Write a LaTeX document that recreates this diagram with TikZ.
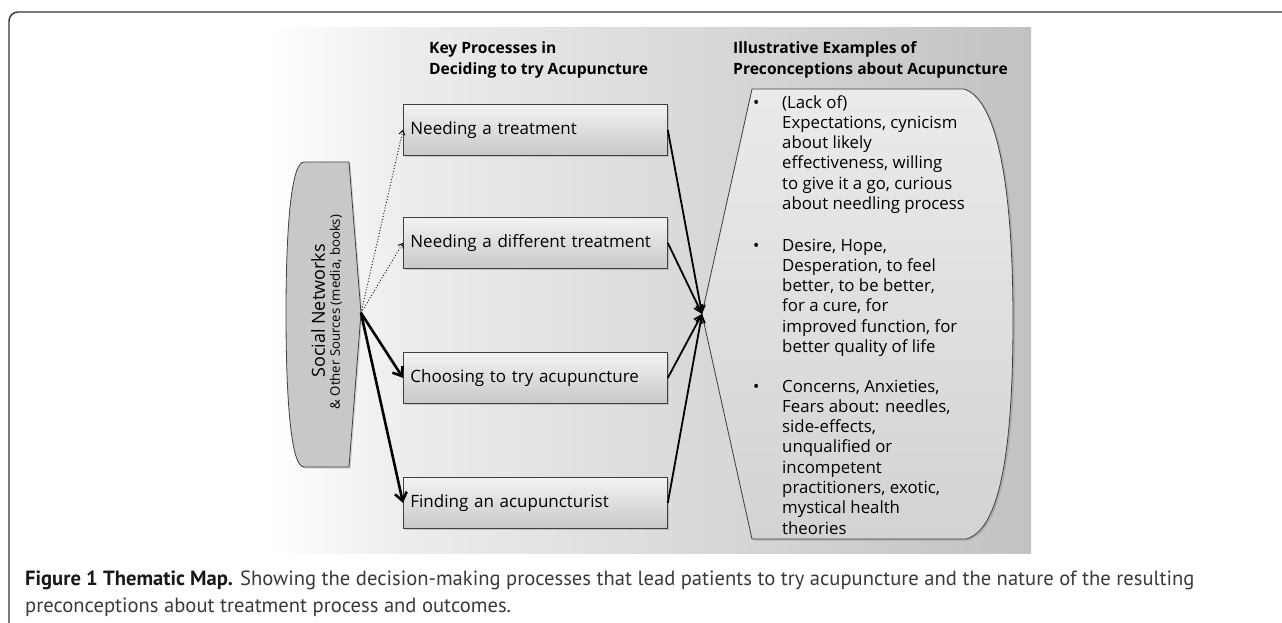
\documentclass[tikz,border=0pt]{standalone}
\usepackage{fontspec}
\setmainfont{Open Sans}
\newfontfamily\capfont{PT Sans}
\usetikzlibrary{arrows.meta,shadows}
\definecolor{frameC}{HTML}{333333}
\definecolor{panelL}{HTML}{EDEDED}
\definecolor{panelR}{HTML}{C2C2C4}
\definecolor{boxTop}{HTML}{F3F3F3}
\definecolor{boxBot}{HTML}{C8C8C8}
\definecolor{edgeC}{HTML}{404040}
\definecolor{socC}{HTML}{C8C8C8}
\definecolor{capC}{HTML}{3A3A3A}
\tikzset{
  pbox/.style={draw=edgeC, line width=0.8pt, top color=boxTop, bottom color=boxBot,
    minimum width=264pt, minimum height=51pt, text width=250pt, inner xsep=7pt, inner ysep=0pt,
    align=left, anchor=north west, font=\fontsize{17}{20}\selectfont,
    drop shadow={shadow xshift=1.5pt, shadow yshift=-1.5pt, opacity=0.35}},
  headtxt/.style={anchor=base west, inner sep=0pt, font=\bfseries\fontsize{15.6}{18}\selectfont},
  bodytxt/.style={anchor=base west, inner sep=0pt, font=\fontsize{16.8}{18}\selectfont},
  dotarr/.style={dotted, line width=0.9pt, -{Straight Barb[length=4pt,width=6pt]}},
  boldarr/.style={line width=2.6pt, -{Straight Barb[length=8pt,width=12pt]}},
  convarr/.style={line width=1.8pt, -{Straight Barb[length=7pt,width=9pt]}},
  captxt/.style={anchor=base west, inner sep=0pt, text=capC, font=\capfont\fontsize{20.6}{24}\selectfont}
}
\begin{document}
\begin{tikzpicture}[x=1pt,y=-1pt]
\useasboundingbox (0,0) rectangle (1282,622);
\clip (0,0) rectangle (1282,622);
\fill[white] (0,0) rectangle (1282,622);
% outer frame
\draw[frameC, line width=1.4pt, rounded corners=9pt] (9,12) rectangle (1320,660);
% panel
\shade[left color=white, right color=panelL] (270,27) rectangle (402,553);
\shade[left color=panelL, right color=panelR] (401,27) rectangle (1031,553);
% headings
\node[headtxt] (h1a) at (429,53) {Key Processes in};
\node[headtxt] (h1b) at (429,74) {Deciding to try Acupuncture};
\node[headtxt] (h2a) at (733,53) {Illustrative Examples of};
\node[headtxt] (h2b) at (733,74) {Preconceptions about Acupuncture};
% social networks shape
\path[draw=edgeC, line width=0.8pt, fill=socC, drop shadow={shadow xshift=1.5pt, shadow yshift=-1.5pt, opacity=0.3}]
  (349,162) -- (304,162) .. controls (290,162) and (286,240) .. (286,313)
  .. controls (286,390) and (290,467) .. (304,467) -- (349,467) -- (361,313) -- cycle;
\coordinate (soc) at (361,313);
\node[rotate=90, inner sep=0pt, font=\fontsize{18}{20}\selectfont] (sn) at (318,311) {Social Networks};
\node[rotate=90, inner sep=0pt, font=\fontsize{13.2}{15}\selectfont] (os) at (336,312) {\& Other Sources (media, books)};
% process boxes
\node[pbox] (b1) at (403,104) {Needing a treatment};
\node[pbox] (b2) at (403,217) {Needing a different treatment};
\node[pbox] (b3) at (403,352) {Choosing to try acupuncture};
\node[pbox] (b4) at (403,477) {Finding an acupuncturist};
% right shape
\coordinate (conv) at (702,314);
\path[draw=edgeC, line width=0.8pt, top color=boxTop!80!boxBot, bottom color=boxBot!80!white,
  drop shadow={shadow xshift=2pt, shadow yshift=-1.5pt, opacity=0.35}]
  (752,89) -- (964,89) .. controls (1000,100) and (1013,200) .. (1013,320)
  .. controls (1013,450) and (1000,530) .. (966,539) -- (752,539) -- (conv) -- cycle;
% bullets
\node[bodytxt] (bu1) at (753,108) {•};
\foreach \t [count=\i] in {(Lack of), {Expectations, cynicism}, about likely, {effectiveness, willing}, {to give it a go, curious}, about needling process}
  \node[bodytxt] (ta\i) at (782,{108+20.3*(\i-1)}) {\t};
\node[bodytxt] (bu2) at (753,251) {•};
\foreach \t [count=\i] in {{Desire, Hope,}, {Desperation, to feel}, {better, to be better,}, {for a cure, for}, {improved function, for}, better quality of life}
  \node[bodytxt] (tb\i) at (782,{251+20.3*(\i-1)}) {\t};
\node[bodytxt] (bu3) at (753,392) {•};
\foreach \t [count=\i] in {{Concerns, Anxieties,}, {Fears about: needles,}, {side-effects,}, unqualified or, incompetent, {practitioners, exotic,}, mystical health, theories}
  \node[bodytxt] (tc\i) at (782,{392+20.3*(\i-1)}) {\t};
% connectors
\draw[dotarr] (soc) -- (b1.west);
\draw[dotarr] (soc) -- (b2.west);
\draw[boldarr] (soc) -- (b3.west);
\draw[boldarr] (soc) -- (b4.west);
\draw[convarr] (b1.east) -- (conv);
\draw[convarr] (b2.east) -- (conv);
\draw[convarr] (b3.east) -- (conv);
\draw[convarr] (b4.east) -- (conv);
% caption
\node[captxt] (cap1) at (25,585) {\textbf{\color{black!90}Figure 1 Thematic Map.} Showing the decision-making processes that lead patients to try acupuncture and the nature of the resulting};
\node[captxt] (cap2) at (25,612) {preconceptions about treatment process and outcomes.};
\end{tikzpicture}
\end{document}
